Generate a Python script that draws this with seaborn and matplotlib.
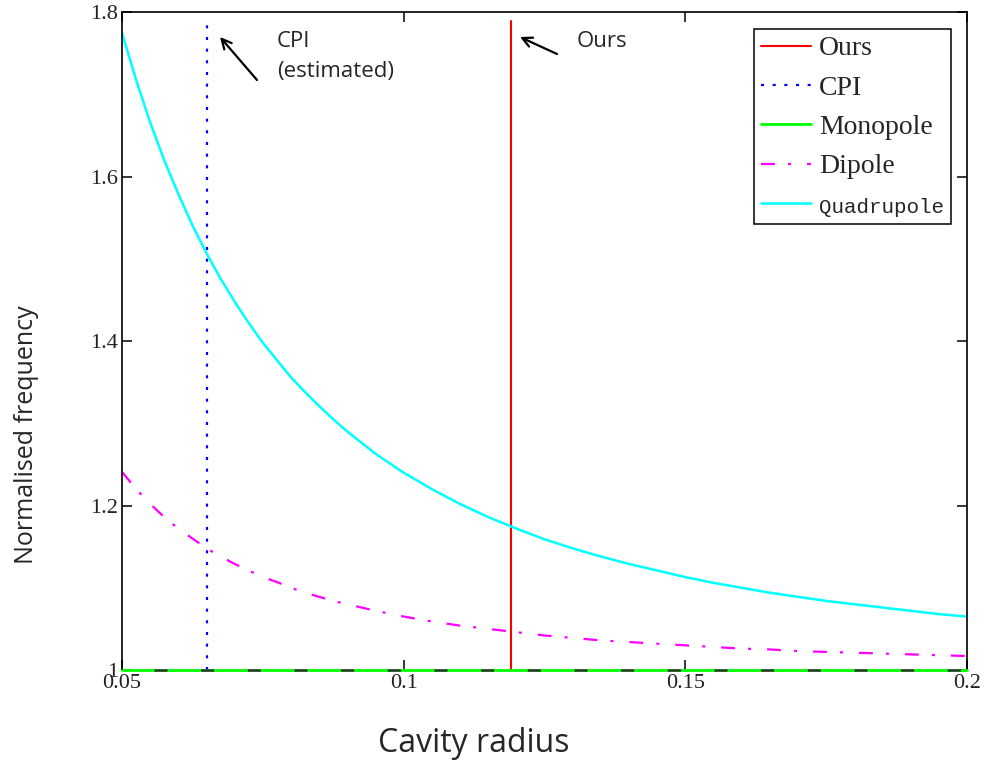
import matplotlib
matplotlib.use("Agg")
import matplotlib.pyplot as plt
import seaborn as sns

# ---- data ----
radius = [0.0500, 0.0525, 0.0550, 0.0575, 0.0600, 0.0625, 0.0650, 0.0675, 0.0700,
          0.0725, 0.0750, 0.0775, 0.0800, 0.0825, 0.0850, 0.0875, 0.0900, 0.0950,
          0.1000, 0.1050, 0.1100, 0.1150, 0.1200, 0.1250, 0.1300, 0.1350, 0.1400,
          0.1450, 0.1500, 0.1550, 0.1600, 0.1650, 0.1700, 0.1750, 0.1800, 0.1850,
          0.1900, 0.1950, 0.2000]
quadrupole = [1.775, 1.718, 1.666, 1.620, 1.579, 1.541, 1.507, 1.476, 1.448,
              1.422, 1.398, 1.377, 1.356, 1.338, 1.321, 1.305, 1.290, 1.263,
              1.240, 1.220, 1.202, 1.186, 1.172, 1.159, 1.148, 1.138, 1.129,
              1.121, 1.113, 1.106, 1.100, 1.094, 1.089, 1.084, 1.080, 1.076,
              1.072, 1.068, 1.065]
dipole = [1.241, 1.220, 1.202, 1.186, 1.172, 1.160, 1.148, 1.138, 1.129,
          1.121, 1.113, 1.107, 1.100, 1.094, 1.089, 1.084, 1.080, 1.072,
          1.065, 1.059, 1.054, 1.050, 1.046, 1.042, 1.039, 1.036, 1.034,
          1.032, 1.030, 1.028, 1.026, 1.025, 1.023, 1.022, 1.021, 1.020,
          1.019, 1.018, 1.017]
monopole_radius = [0.05, 0.2]
monopole = [1.0, 1.0]
ours_radius = [0.119, 0.119]
ours_span = [1.0, 1.789]
cpi_radius = [0.065, 0.065]
cpi_span = [1.0, 1.785]

x_ticks = [0.05, 0.1, 0.15, 0.2]
x_tick_labels = ["0.05", "0.1", "0.15", "0.2"]
y_ticks = [1.0, 1.2, 1.4, 1.6, 1.8]
y_tick_labels = ["1", "1.2", "1.4", "1.6", "1.8"]
legend_labels = ["Ours", "CPI", "Monopole", "Dipole", "Quadrupole"]

# ---- style ----
sns.set_style("white")
plt.rcParams["lines.scale_dashes"] = False
plt.rcParams["font.family"] = ["DejaVu Sans"]

W, H = 999, 761
fig = plt.figure(figsize=(W / 100, H / 100), dpi=100)
L, R, T, B = 122, 967, 12.3, 670
ax = fig.add_axes([L / W, 1 - B / H, (R - L) / W, (B - T) / H])

lw = 1.5
sns.lineplot(x=ours_radius, y=ours_span, color="#FF0000", lw=lw,
             estimator=None, sort=False, ax=ax, label=legend_labels[0])
sns.lineplot(x=cpi_radius, y=cpi_span, color="#0000FF", lw=1.6,
             linestyle=(0, (2.2, 6.2)), estimator=None, sort=False, ax=ax,
             label=legend_labels[1])
sns.lineplot(x=monopole_radius, y=monopole, color="#00FF00", lw=2.0,
             estimator=None, sort=False, ax=ax, label=legend_labels[2],
             clip_on=False, zorder=4)
sns.lineplot(x=monopole_radius, y=monopole, color="#333333", lw=1.8,
             linestyle=(10.6, (9.4, 24.2)), estimator=None, sort=False, ax=ax,
             clip_on=False, zorder=5, legend=False, label="_nolegend_")
sns.lineplot(x=radius, y=dipole, color="#FF00FF", lw=1.6,
             linestyle=(0, (10, 9.4, 2.2, 11.5)), estimator=None, sort=False,
             ax=ax, label=legend_labels[3])
sns.lineplot(x=radius, y=quadrupole, color="#00FFFF", lw=1.8,
             estimator=None, sort=False, ax=ax, label=legend_labels[4])

ax.set_xlim(0.05, 0.2)
ax.set_ylim(1.0, 1.8)
ax.set_xticks(x_ticks, x_tick_labels, fontfamily="Liberation Serif", fontsize=16)
ax.set_yticks(y_ticks, y_tick_labels, fontfamily="Liberation Serif", fontsize=16)
ax.tick_params(direction="in", length=7, width=1.1, top=True, right=True,
               bottom=True, left=True, pad=3, colors="black", labelcolor="#222222")

for side in ["left", "top", "right"]:
    ax.spines[side].set_visible(True)
    ax.spines[side].set_color("black")
    ax.spines[side].set_linewidth(1.2)
ax.spines["bottom"].set_visible(False)

ax.set_xlabel("Cavity radius", fontsize=23, fontfamily="Open Sans", va="baseline")
ax.xaxis.set_label_coords((474 - L) / (R - L), (B - 752) / (B - T))
ax.set_ylabel("Normalised frequency", fontsize=18, fontfamily="Open Sans",
              va="center", ha="center")
ax.yaxis.set_label_coords((27 - L) / (R - L), (B - 435) / (B - T))

# ---- legend ----
handles, labels = ax.get_legend_handles_labels()
order = [labels.index(n) for n in legend_labels]
leg = ax.legend([handles[i] for i in order], [labels[i] for i in order],
                loc="upper right",
                bbox_to_anchor=((951 - L) / (R - L), (B - 29) / (B - T)),
                borderaxespad=0, frameon=True, fancybox=False, shadow=False,
                framealpha=1, edgecolor="black", borderpad=0.25,
                handlelength=1.8, handletextpad=0.3, labelspacing=0.5,
                prop={"family": "Liberation Serif", "size": 20})
leg.get_frame().set_linewidth(1.1)
leg.get_texts()[4].set_fontfamily("Liberation Mono")
leg.get_texts()[4].set_fontsize(15)

# ---- annotations ----
arrow = dict(arrowstyle="->,head_length=0.7,head_width=0.35", lw=1.6, color="black",
             shrinkA=0, shrinkB=0)
ax.annotate("", xy=(220, H - 37), xytext=(257, H - 80), xycoords="figure pixels",
            textcoords="figure pixels", arrowprops=arrow)
ax.annotate("", xy=(520, H - 37), xytext=(557, H - 54), xycoords="figure pixels",
            textcoords="figure pixels", arrowprops=arrow)
fig.text(277 / W, 1 - 47 / H, "CPI", fontsize=16, fontfamily="Open Sans",
         va="baseline", ha="left")
fig.text(277 / W, 1 - 77 / H, "(estimated)", fontsize=16, fontfamily="Open Sans",
         va="baseline", ha="left")
fig.text(577 / W, 1 - 47 / H, "Ours", fontsize=16, fontfamily="Open Sans",
         va="baseline", ha="left")

fig.savefig("out.png", dpi=100)
